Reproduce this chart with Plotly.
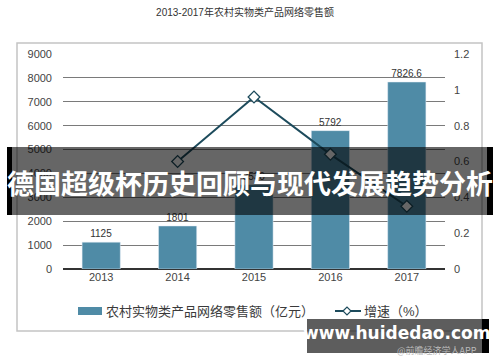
import plotly.graph_objects as go

years = ["2013", "2014", "2015", "2016", "2017"]
sales = [1125, 1801, 3530, 5792, 7826.6]
sales_labels = ["1125", "1801", "3530", "5792", "7826.6"]
growth_years = ["2014", "2015", "2016", "2017"]
growth = [0.60, 0.96, 0.64, 0.35]
bar_name = "农村实物类产品网络零售额（亿元）"
line_name = "增速（%）"

W, H = 500, 362
L, R, T, B = 63, 55, 54, 93
PW, PH = W - L - R, H - T - B

def px(x):
    return (x - L) / PW

def py(y):
    return (H - B - y) / PH

bar_color = "#4f8ba6"
line_color = "#1d4b5c"
font = "Liberation Sans, Noto Sans CJK SC, sans-serif"

fig = go.Figure()
fig.add_trace(go.Bar(
    x=years, y=sales, name=bar_name, showlegend=False,
    marker_color=bar_color, width=0.5,
    text=sales_labels, textposition="outside", cliponaxis=False,
    textfont=dict(size=10, color="#333333"),
))
fig.add_trace(go.Scatter(
    x=growth_years, y=growth, name=line_name, yaxis="y2", mode="lines+markers", showlegend=False,
    line=dict(color=line_color, width=2),
    marker=dict(symbol="diamond", size=9, color="white", line=dict(color=line_color, width=1.3)),
))

fig.update_layout(
    width=W, height=H, margin=dict(l=L, r=R, t=T, b=B),
    paper_bgcolor="white", plot_bgcolor="white",
    font=dict(family=font, color="#444444", size=10),
    xaxis=dict(type="category", range=[-0.5, 4.5], showgrid=False, showline=False,
               ticks="", tickfont=dict(size=11, color="#444444")),
    yaxis=dict(range=[0, 9000], dtick=1000, showgrid=True, gridcolor="#7a7a7a", gridwidth=1,
               zeroline=True, zerolinecolor="#333333", zerolinewidth=1.5,
               tickfont=dict(size=11, color="#444444"), ticklabelstandoff=10),
    yaxis2=dict(range=[0, 1.2], dtick=0.2, overlaying="y", side="right", showgrid=False,
                zeroline=False, tickfont=dict(size=11, color="#444444"), ticklabelstandoff=8),
    title=dict(text="2013-2017年农村实物类产品网络零售额", x=0.49, xanchor="center",
               y=1 - 12 / H, yanchor="middle", font=dict(size=10, color="#333333")),
    bargap=0.5,
)

ly = 311
dcx, dr = 347, 4
shapes = [
    dict(type="rect", xref="paper", yref="paper", x0=px(17), x1=px(482), y0=py(331), y1=py(43),
         line=dict(color="#c4c4c4", width=1.5), fillcolor="rgba(0,0,0,0)", layer="below"),
    # legend swatches
    dict(type="rect", xref="paper", yref="paper", x0=px(78), x1=px(102), y0=py(ly + 4), y1=py(ly - 4),
         line=dict(width=0), fillcolor=bar_color),
    dict(type="line", xref="paper", yref="paper", x0=px(335), x1=px(361), y0=py(ly), y1=py(ly),
         line=dict(color=line_color, width=2)),
    dict(type="path", xref="paper", yref="paper",
         path=f"M {px(dcx - dr)} {py(ly)} L {px(dcx)} {py(ly - dr)} L {px(dcx + dr)} {py(ly)} L {px(dcx)} {py(ly + dr)} Z",
         line=dict(color=line_color, width=1.2), fillcolor="white"),
    # banner
    dict(type="rect", xref="paper", yref="paper", x0=px(12), x1=px(487), y0=py(215), y1=py(147),
         line=dict(width=0), fillcolor="rgba(0,0,0,0.6)", layer="above"),
    dict(type="rect", xref="paper", yref="paper", x0=px(7), x1=px(12), y0=py(215), y1=py(147),
         line=dict(width=0), fillcolor="black", layer="above"),
    dict(type="rect", xref="paper", yref="paper", x0=px(487), x1=px(493), y0=py(215), y1=py(147),
         line=dict(width=0), fillcolor="black", layer="above"),
    # bottom watermark
    dict(type="rect", xref="paper", yref="paper", x0=px(307), x1=px(482), y0=py(353), y1=py(319),
         line=dict(width=0), fillcolor="rgba(30,30,30,0.72)", layer="above"),
    dict(type="rect", xref="paper", yref="paper", x0=px(482), x1=px(489), y0=py(353), y1=py(319),
         line=dict(width=0), fillcolor="black", layer="above"),
]
fig.update_layout(shapes=shapes)

fig.add_annotation(text=bar_name, xref="paper", yref="paper", x=px(104), y=py(ly),
                   xanchor="left", yanchor="middle", showarrow=False,
                   font=dict(family=font, size=13, color="#3a3a3a"))
fig.add_annotation(text=line_name, xref="paper", yref="paper", x=px(362), y=py(ly),
                   xanchor="left", yanchor="middle", showarrow=False,
                   font=dict(family=font, size=13, color="#3a3a3a"))

fig.add_annotation(text="<b>德国超级杯历史回顾与现代发展趋势分析</b>", xref="paper", yref="paper",
                   x=px(250), y=py(182), xanchor="center", yanchor="middle", showarrow=False,
                   font=dict(family="Noto Sans CJK SC, sans-serif", size=27, color="white"))
fig.add_annotation(text="<b>www.huidedao.com</b>", xref="paper", yref="paper",
                   x=px(396), y=py(333), xanchor="center", yanchor="middle", showarrow=False,
                   font=dict(family="DejaVu Sans, sans-serif", size=17, color="white"))
fig.add_annotation(text="@前瞻经济学人APP", xref="paper", yref="paper",
                   x=px(479), y=py(350), xanchor="right", yanchor="middle", showarrow=False,
                   font=dict(family="Noto Sans CJK SC, sans-serif", size=9, color="#bbbbbb"))

fig.write_html("out.html")
